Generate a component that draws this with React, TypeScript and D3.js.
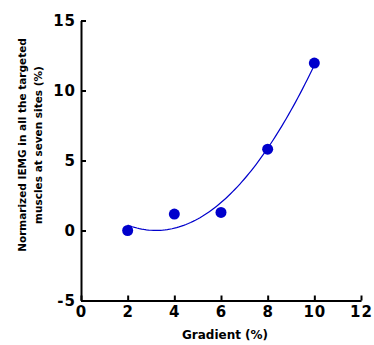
import { useEffect, useRef } from 'react';
import * as d3 from 'd3';

const gradient = [2, 4, 6, 8, 10];
const iemg = [0, 1.17, 1.29, 5.81, 11.96];
const xTicks = [0, 2, 4, 6, 8, 10, 12];
const yTicks = [-5, 0, 5, 10, 15];

// least squares quadratic fit of the points
const quadFit = (xs: number[], ys: number[]) => {
  const n = xs.length;
  const s = (f: (x: number, y: number) => number) =>
    xs.reduce((acc, x, i) => acc + f(x, ys[i]), 0);
  const m = [
    [n, s(x => x), s(x => x * x)],
    [s(x => x), s(x => x * x), s(x => x ** 3)],
    [s(x => x * x), s(x => x ** 3), s(x => x ** 4)],
  ];
  const r = [s((x, y) => y), s((x, y) => x * y), s((x, y) => x * x * y)];
  const det = (a: number[][]) =>
    a[0][0] * (a[1][1] * a[2][2] - a[1][2] * a[2][1]) -
    a[0][1] * (a[1][0] * a[2][2] - a[1][2] * a[2][0]) +
    a[0][2] * (a[1][0] * a[2][1] - a[1][1] * a[2][0]);
  const d = det(m);
  const coef = [0, 1, 2].map(k => det(m.map((row, i) => row.map((v, j) => (j === k ? r[i] : v)))) / d);
  return (x: number) => coef[0] + coef[1] * x + coef[2] * x * x;
};

const App = () => {
  const svgRef = useRef<SVGSVGElement>(null);

  useEffect(() => {
    const width = 374;
    const height = 345;
    const svg = d3.select(svgRef.current);
    svg.selectAll('*').remove();
    svg.attr('width', width).attr('height', height);

    const x = d3.scaleLinear().domain([0, 12]).range([81, 361]);
    const y = d3.scaleLinear().domain([-5, 15]).range([300.5, 20.5]);
    const font = '"DejaVu Sans", sans-serif';
    const fmt = (d: d3.NumberValue) => String(d);

    // axes
    const xAxis = svg
      .append('g')
      .attr('transform', `translate(0,${y(-5)})`)
      .call(d3.axisBottom(x).tickValues(xTicks).tickFormat(fmt).tickSizeInner(-5).tickSizeOuter(0).tickPadding(9));
    const yAxis = svg
      .append('g')
      .attr('transform', `translate(${x(0)},0)`)
      .call(d3.axisLeft(y).tickValues(yTicks).tickFormat(fmt).tickSizeInner(-5).tickSizeOuter(0).tickPadding(5));

    [xAxis, yAxis].forEach(a => {
      a.select('.domain').attr('stroke', '#000').attr('stroke-width', 2);
      a.selectAll('.tick line').attr('stroke', '#000').attr('stroke-width', 2);
      a.selectAll('.tick text')
        .attr('fill', '#000')
        .style('font-family', font)
        .style('font-size', '15px')
        .style('font-weight', 'bold')
        .style('letter-spacing', '1px');
    });
    yAxis.selectAll('.tick text').attr('dy', '0.3em');
    xAxis.selectAll('.tick text').attr('dy', '0.5em');

    // axis titles
    svg
      .append('text')
      .attr('x', 225)
      .attr('y', 339)
      .attr('text-anchor', 'middle')
      .style('font-family', font)
      .style('font-size', '12px')
      .style('font-weight', 'bold')
      .text('Gradient  (%)');

    const yTitle = svg
      .append('text')
      .attr('transform', 'translate(0,145) rotate(-90)')
      .attr('text-anchor', 'middle')
      .style('font-family', font)
      .style('font-size', '10.5px')
      .style('font-weight', 'bold');
    yTitle.append('tspan').attr('x', 0).attr('y', 26).text('Normarized  IEMG  in  all  the  targeted');
    yTitle.append('tspan').attr('x', 0).attr('y', 42).text('muscles  at  seven  sites  (%)');

    // fit curve
    const f = quadFit(gradient, iemg);
    const xs = d3.range(gradient[0], gradient[gradient.length - 1] + 0.001, 0.1);
    const line = d3
      .line<number>()
      .x(d => x(d))
      .y(d => y(f(d)))
      .curve(d3.curveLinear);
    svg
      .append('path')
      .datum(xs)
      .attr('d', line)
      .attr('fill', 'none')
      .attr('stroke', '#0000cc')
      .attr('stroke-width', 1.2);

    // points
    svg
      .selectAll('circle')
      .data(gradient)
      .enter()
      .append('circle')
      .attr('cx', d => x(d))
      .attr('cy', (d, i) => y(iemg[i]))
      .attr('r', 5.5)
      .attr('fill', '#0000cc');
  }, []);

  return <svg ref={svgRef} style={{ position: 'absolute', left: 0, top: 0 }} />;
};

export default App;
